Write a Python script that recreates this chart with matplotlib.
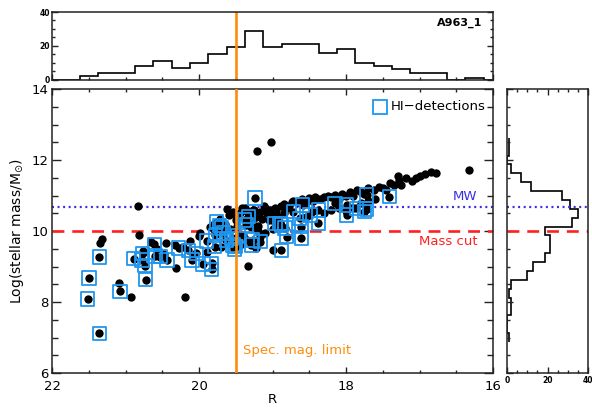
import matplotlib
matplotlib.use("Agg")
import matplotlib.pyplot as plt
import numpy as np
from matplotlib.ticker import MultipleLocator

# ---------------- data ----------------
# galaxies without HI detection (R magnitude, log stellar mass)
r_nonhi = [21.33, 21.35, 21.09, 20.93, 20.84, 20.82, 20.76, 20.65, 20.58, 20.45,
           20.33, 20.32, 20.20, 20.22, 20.13, 20.00, 19.90, 20.08, 19.33, 20.48,
           19.99, 19.85, 19.80, 19.78, 19.72, 19.65, 19.60, 19.58, 19.54, 19.50,
           19.48, 19.45, 19.42, 19.40, 19.35, 19.30, 19.28, 19.25, 19.22, 19.20,
           19.17, 19.15, 19.11, 19.08, 19.05, 19.02, 19.00, 18.97, 18.95, 18.92,
           18.88, 18.85, 18.80, 18.74, 19.22, 19.17, 18.99, 19.10, 19.40, 19.60,
           19.70, 19.45, 19.35, 19.20, 19.00, 19.30, 19.21, 19.02, 16.32,
           18.85, 18.78, 18.72, 18.65, 18.60, 18.55, 18.50, 18.45, 18.42, 18.35,
           18.30, 18.25, 18.20, 18.15, 18.10, 18.05, 18.00, 17.95, 17.90, 17.85,
           17.80, 17.75, 17.70, 17.62, 17.55, 17.50, 17.45, 17.40, 17.35, 17.30,
           17.28, 17.25, 17.18, 17.10, 17.05, 17.00, 16.92, 16.85, 16.77,
           18.55, 18.45, 18.30, 18.20, 18.00, 17.90, 18.10, 17.80, 17.70, 17.60,
           19.62, 19.52, 19.38, 19.27, 19.12]
m_nonhi = [9.77, 9.65, 8.54, 8.13, 10.70, 9.89, 9.45, 9.70, 9.50, 9.67,
           9.61, 8.95, 8.15, 9.55, 9.73, 9.86, 9.42, 9.30, 9.02, 9.35,
           9.94, 10.10, 10.20, 10.00, 10.35, 10.20, 10.45, 10.05, 10.54, 10.30,
           10.15, 10.50, 10.64, 10.59, 10.55, 10.45, 10.25, 10.60, 10.40, 10.15,
           10.54, 10.35, 10.65, 10.50, 10.30, 10.60, 10.45, 10.65, 10.55, 10.40,
           10.70, 10.50, 10.65, 10.83, 9.51, 9.84, 9.46, 9.95, 9.90, 9.70,
           9.55, 9.60, 9.75, 10.00, 10.05, 10.10, 12.25, 12.50, 11.72,
           10.75, 10.70, 10.85, 10.82, 10.90, 10.80, 10.92, 10.85, 10.95, 10.90,
           10.95, 11.00, 10.95, 11.02, 10.90, 11.05, 11.00, 11.10, 11.00, 11.15,
           11.10, 11.05, 11.20, 11.15, 11.25, 11.20, 11.15, 11.35, 11.30, 11.55,
           11.45, 11.30, 11.48, 11.40, 11.50, 11.55, 11.60, 11.65, 11.63,
           10.40, 10.55, 10.50, 10.60, 10.55, 10.65, 10.65, 10.80, 10.85, 10.90,
           10.62, 10.48, 10.66, 10.58, 10.70]

# HI-detected galaxies
r_hi = [21.52, 21.50, 21.36, 21.36, 21.08, 20.89, 20.78, 20.77, 20.74, 20.73,
        20.61, 20.60, 20.53, 20.44, 20.28, 20.10, 20.04, 19.95, 19.83, 19.83,
        19.79, 19.76, 19.70, 19.67, 19.63, 19.54, 19.52, 19.38, 19.33, 19.36,
        19.27, 19.29, 19.17, 19.56, 19.51, 19.24, 18.97, 18.90, 18.88, 18.83,
        18.81, 18.88, 18.72, 18.59, 18.63, 18.49, 18.61, 18.61, 18.38, 18.38,
        18.15, 17.99, 17.99, 17.86, 17.75, 17.72, 17.41, 17.72, 19.78, 19.72,
        19.47, 20.15, 19.90]
m_hi = [8.08, 8.68, 9.27, 7.12, 8.30, 9.22, 9.18, 9.37, 9.02, 8.63,
        9.62, 9.30, 9.28, 9.18, 9.52, 9.18, 9.37, 9.07, 8.92, 9.09,
        9.56, 10.26, 10.08, 9.94, 9.75, 9.61, 9.48, 10.31, 10.40, 10.17,
        9.75, 9.61, 9.70, 9.79, 9.56, 10.93, 10.22, 10.22, 10.17, 10.08,
        9.84, 9.46, 10.54, 10.73, 10.36, 10.45, 10.12, 9.80, 10.59, 10.22,
        10.78, 10.73, 10.45, 10.64, 10.54, 11.01, 10.97, 10.62, 9.88, 10.15,
        9.86, 9.46, 9.72]

# R-magnitude histogram (bin centres, counts)
rhist_centres = [22.0, 21.75, 21.5, 21.25, 21.0, 20.75, 20.5, 20.25, 20.0, 19.75,
                 19.5, 19.25, 19.0, 18.75, 18.5, 18.25, 18.0, 17.75, 17.5, 17.25,
                 17.0, 16.75, 16.5, 16.25, 16.0]
rhist_counts = [0, 0, 2, 4, 4, 8, 11, 7, 10, 15,
                19, 29, 19, 21, 21, 16, 18, 10, 8, 6,
                4, 4, 0, 1, 0]

# stellar-mass histogram (bin centres, counts)
mhist_centres = [7.0, 7.25, 7.5, 7.75, 8.0, 8.25, 8.5, 8.75, 9.0, 9.25,
                 9.5, 9.75, 10.0, 10.25, 10.5, 10.75, 11.0, 11.25, 11.5, 11.75,
                 12.0, 12.25, 12.5]
mhist_counts = [1, 0, 0, 2, 2, 1, 2, 10, 13, 19,
                21, 21, 19, 32, 35, 31, 27, 12, 7, 2,
                0, 1, 1]

spec_mag_limit = 19.5
mass_cut = 10.0
mw_mass = 10.68

# ---------------- style ----------------
W, H = 592, 408
fig = plt.figure(figsize=(W / 100, H / 100), dpi=100)
plt.rcParams['font.family'] = ['DejaVu Sans']

ORANGE = '#FF8C0A'
RED = '#FF2020'
MWBLUE = '#3B2FE0'
SQBLUE = '#1E96F0'
SPINE = '#222222'

def fx(px):
    return px / W

def fy(py):
    return 1 - py / H

main_l, main_r = 52.3, 493
main_t, main_b = 89, 373
ax = fig.add_axes([fx(main_l), fy(main_b), fx(main_r) - fx(main_l), fy(main_t) - fy(main_b)])
axt = fig.add_axes([fx(main_l), fy(79.5), fx(main_r) - fx(main_l), fy(12) - fy(79.5)])
axr = fig.add_axes([fx(507), fy(main_b), fx(588) - fx(507), fy(main_t) - fy(main_b)])

for a in (ax, axt, axr):
    for s in a.spines.values():
        s.set_linewidth(1.1)
        s.set_color(SPINE)

# ---------------- main panel ----------------
ax.set_xlim(22, 16)
ax.set_ylim(6, 14)
ax.scatter(r_nonhi, m_nonhi, s=36, c='black', zorder=3, linewidths=0)
ax.scatter(r_hi, m_hi, s=36, c='black', zorder=3, linewidths=0)
ax.scatter(r_hi, m_hi, s=92, marker='s', facecolors='none', edgecolors=SQBLUE,
           linewidths=1.3, zorder=4)
ax.axvline(spec_mag_limit, color=ORANGE, lw=1.9, zorder=5)
ax.axhline(mass_cut, color=RED, lw=1.9, ls=(0, (4.5, 3.0)), zorder=2)
ax.axhline(mw_mass, color=MWBLUE, lw=1.6, ls=(0, (0.9, 1.6)), zorder=2)

ax.xaxis.set_major_locator(MultipleLocator(2))
ax.xaxis.set_minor_locator(MultipleLocator(0.5))
ax.yaxis.set_major_locator(MultipleLocator(2))
ax.yaxis.set_minor_locator(MultipleLocator(0.5))
ax.tick_params(which='both', direction='in', top=True, right=True, colors=SPINE,
               labelcolor='black', labelsize=9.5, width=1.0)
ax.tick_params(axis='x', which='major', length=4.0, pad=5)
ax.tick_params(axis='x', which='minor', length=2.2)
ax.tick_params(axis='y', which='major', length=6.5, pad=3)
ax.tick_params(axis='y', which='minor', length=4.0)
ax.set_xlabel('R', fontsize=9.5, labelpad=0)
ax.set_ylabel(r'Log(stellar mass/M$_{\odot}$)', fontsize=10, labelpad=4)

ax.text(16.21, mw_mass + 0.12, 'MW', color=MWBLUE, fontsize=9.5, ha='right', va='bottom')
ax.text(16.21, mass_cut - 0.12, 'Mass cut', color=RED, fontsize=9.5, ha='right', va='top')
ax.text(19.40, 6.62, 'Spec. mag. limit', color=ORANGE, fontsize=9.5, ha='left', va='center')

ax.plot([0.744], [0.937], marker='s', ms=10, mfc='none', mec=SQBLUE, mew=1.3,
        transform=ax.transAxes, clip_on=False)
ax.text(0.767, 0.937, 'HI\u2212detections', transform=ax.transAxes, fontsize=9.5,
        ha='left', va='center')

# ---------------- top histogram ----------------
rc = np.array(rhist_centres)
redges = np.concatenate([rc + 0.125, [rc[-1] - 0.125]])
axt.stairs(rhist_counts, redges, color='black', lw=1.2, baseline=None)
axt.axvline(spec_mag_limit, color=ORANGE, lw=1.9)
axt.set_xlim(22, 16)
axt.set_ylim(0, 40)
axt.xaxis.set_major_locator(MultipleLocator(2))
axt.xaxis.set_minor_locator(MultipleLocator(0.5))
axt.yaxis.set_major_locator(MultipleLocator(20))
axt.yaxis.set_minor_locator(MultipleLocator(5))
axt.tick_params(which='both', direction='in', top=False, right=True, colors=SPINE,
                labelcolor='black', labelsize=5.5, width=1.0, labelbottom=False)
axt.tick_params(axis='x', which='major', length=4.0)
axt.tick_params(axis='x', which='minor', length=2.2)
axt.tick_params(axis='y', which='major', length=4.0, pad=1.5)
axt.tick_params(axis='y', which='minor', length=2.5)
for lab in axt.get_yticklabels():
    lab.set_fontweight('bold')
axt.text(0.975, 0.84, 'A963_1', transform=axt.transAxes, fontsize=8, fontweight='bold',
         ha='right', va='center')

# ---------------- right histogram ----------------
mc = np.array(mhist_centres)
medges = np.concatenate([mc - 0.125, [mc[-1] + 0.125]])
axr.stairs(mhist_counts, medges, orientation='horizontal', color='black', lw=1.2,
           baseline=None)
axr.axhline(mass_cut, color=RED, lw=1.9, ls=(0, (4.5, 3.0)))
axr.axhline(mw_mass, color=MWBLUE, lw=1.6, ls=(0, (0.9, 1.6)))
axr.set_ylim(6, 14)
axr.set_xlim(0, 40)
axr.xaxis.set_major_locator(MultipleLocator(20))
axr.xaxis.set_minor_locator(MultipleLocator(5))
axr.yaxis.set_major_locator(MultipleLocator(2))
axr.yaxis.set_minor_locator(MultipleLocator(0.5))
axr.tick_params(which='both', direction='in', top=True, right=False, colors=SPINE,
                labelcolor='black', labelsize=5.5, width=1.0, labelleft=False)
axr.tick_params(axis='x', which='major', length=4.0, pad=2)
axr.tick_params(axis='x', which='minor', length=2.5)
axr.tick_params(axis='y', which='major', length=4.0)
axr.tick_params(axis='y', which='minor', length=2.2)
for lab in axr.get_xticklabels():
    lab.set_fontweight('bold')

fig.savefig('out.png', dpi=100)
